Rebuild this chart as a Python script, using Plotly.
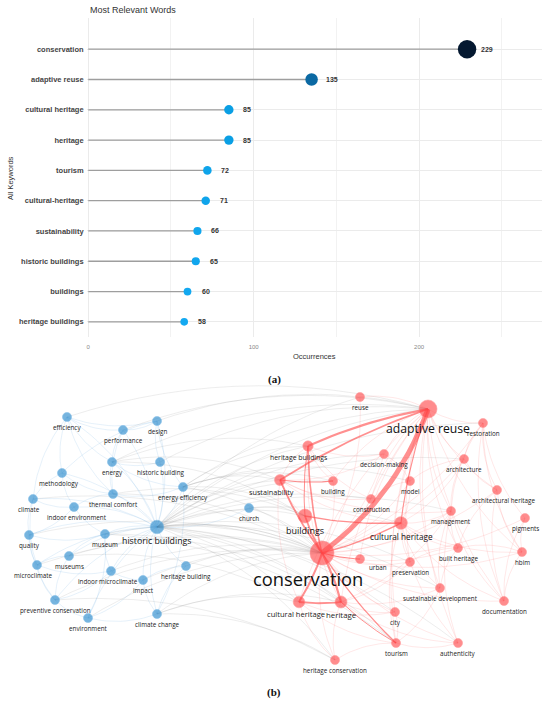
import numpy as np
import plotly.graph_objects as go

# ---- (a) most relevant words ----
words = ["conservation", "adaptive reuse", "cultural heritage", "heritage", "tourism",
         "cultural-heritage", "sustainability", "historic buildings", "buildings",
         "heritage buildings"]
occurrences = [229, 135, 85, 85, 72, 71, 66, 65, 60, 58]
x_ticks = [0, 100, 200]

# ---- (b) keyword co-occurrence map (VOSviewer layout) ----
node_ids = ["conservation", "adaptive reuse", "reuse", "restoration", "heritage buildings",
            "decision-making", "architecture", "sustainability", "building", "model",
            "architectural heritage", "construction", "buildings", "management", "pigments",
            "cultural heritage", "built heritage", "hbim", "urban", "preservation",
            "sustainable development", "cultural heritage 2", "heritage", "documentation",
            "city", "tourism", "authenticity", "heritage conservation",
            "efficiency", "performance", "design", "energy", "historic building",
            "methodology", "energy efficiency", "thermal comfort", "climate",
            "indoor environment", "church", "historic buildings", "quality", "museum",
            "museums", "microclimate", "heritage building", "indoor microclimate", "impact",
            "preventive conservation", "environment", "climate change"]
map_x = [322, 428, 360, 483, 308, 384, 464, 280, 333, 410, 497, 371, 305, 451, 525, 401,
         458, 522, 360, 410, 440, 299, 341, 504, 395, 396, 458, 335,
         67, 123, 157, 112, 160, 62, 183, 113, 33, 74, 249, 157, 29, 105, 69, 37, 186, 111,
         143, 55, 88, 157]
map_y = [553, 409, 397, 423, 446, 454, 459, 480, 481, 481, 490, 499, 516, 511, 518, 523,
         548, 552, 559, 562, 588, 602, 602, 601, 612, 643, 643, 660,
         417, 430, 421, 462, 462, 473, 487, 494, 499, 507, 508, 527, 535, 534, 556, 565,
         566, 571, 580, 600, 618, 614]
cluster = [1] * 28 + [2] * 22
node_weight = [119, 67, 17, 17, 22, 17, 17, 25, 17, 17, 17, 17, 40, 17, 17, 33,
               17, 17, 17, 17, 17, 28, 30, 17, 17, 17, 17, 17,
               17, 17, 17, 17, 17, 17, 17, 17, 17, 17, 17, 38, 17, 17, 17, 17, 17, 17,
               17, 17, 17, 17]

strong_links = [("conservation", "adaptive reuse", 5), ("adaptive reuse", "heritage buildings", 2.2),
                ("adaptive reuse", "sustainability", 1.8), ("heritage buildings", "conservation", 1.6),
                ("sustainability", "conservation", 1.8), ("buildings", "conservation", 1.8),
                ("conservation", "cultural heritage", 1.5), ("cultural heritage 2", "conservation", 2),
                ("heritage", "conservation", 2.2), ("conservation", "tourism", 1.3),
                ("cultural heritage 2", "heritage", 1.8), ("buildings", "cultural heritage", 1.3),
                ("sustainability", "building", 1.2), ("adaptive reuse", "cultural heritage", 1.1),
                ("conservation", "urban", 1), ("heritage", "tourism", 1),
                ("heritage buildings", "buildings", 1)]
red_links = [("adaptive reuse", t) for t in
             ["reuse", "restoration", "decision-making", "architecture", "model", "building",
              "construction", "management", "architectural heritage", "built heritage",
              "sustainable development", "preservation", "city", "tourism", "authenticity",
              "heritage", "cultural heritage 2", "hbim", "documentation", "urban"]] + \
            [("conservation", t) for t in
             ["restoration", "architecture", "management", "architectural heritage",
              "built heritage", "hbim", "documentation", "pigments", "sustainable development",
              "city", "authenticity", "heritage conservation", "model", "decision-making",
              "construction", "building", "reuse", "preservation"]] + \
            [("cultural heritage", t) for t in
             ["management", "architecture", "model", "preservation", "sustainable development",
              "tourism", "built heritage", "authenticity", "documentation", "hbim"]] + \
            [("heritage", "heritage conservation"), ("heritage", "preservation"),
             ("heritage", "management"), ("heritage", "sustainable development"),
             ("heritage", "city"), ("heritage", "authenticity"),
             ("cultural heritage 2", "heritage conservation"), ("cultural heritage 2", "tourism"),
             ("cultural heritage 2", "city"), ("sustainability", "cultural heritage 2"),
             ("heritage buildings", "sustainability"), ("heritage buildings", "building"),
             ("heritage buildings", "decision-making"), ("heritage buildings", "construction"),
             ("heritage buildings", "heritage"), ("sustainability", "buildings"),
             ("sustainability", "decision-making"), ("sustainability", "construction"),
             ("sustainability", "cultural heritage"), ("sustainability", "management"),
             ("restoration", "architecture"), ("restoration", "architectural heritage"),
             ("restoration", "pigments"), ("restoration", "hbim"), ("restoration", "documentation"),
             ("restoration", "management"), ("architecture", "model"),
             ("architecture", "architectural heritage"), ("architecture", "management"),
             ("management", "built heritage"), ("management", "sustainable development"),
             ("management", "authenticity"), ("management", "documentation"),
             ("architectural heritage", "hbim"), ("architectural heritage", "documentation"),
             ("architectural heritage", "built heritage"), ("pigments", "documentation"),
             ("pigments", "hbim"), ("hbim", "documentation"), ("hbim", "built heritage"),
             ("tourism", "city"), ("tourism", "sustainable development"),
             ("tourism", "authenticity"), ("tourism", "heritage conservation"),
             ("built heritage", "sustainable development"), ("built heritage", "preservation"),
             ("model", "decision-making"), ("model", "construction")]
cross_links = [("conservation", t) for t in
               ["historic buildings", "church", "heritage building", "climate change",
                "preventive conservation", "energy efficiency", "environment", "museum", "museums",
                "impact", "indoor microclimate", "microclimate", "thermal comfort", "quality",
                "climate", "historic buildings"]] + \
              [("adaptive reuse", t) for t in
               ["historic buildings", "energy efficiency", "design", "performance", "efficiency",
                "historic building", "energy"]] + \
              [(s, "historic buildings") for s in
               ["reuse", "heritage buildings", "sustainability", "buildings", "cultural heritage",
                "cultural heritage 2", "heritage", "tourism", "heritage conservation", "management",
                "restoration", "architecture", "construction", "sustainable development",
                "decision-making", "building", "preservation", "authenticity", "city"]] + \
              [("heritage buildings", "energy efficiency"), ("heritage buildings", "energy"),
               ("sustainability", "energy efficiency"), ("sustainability", "energy"),
               ("buildings", "energy efficiency"), ("buildings", "church"),
               ("buildings", "thermal comfort"), ("buildings", "energy"),
               ("heritage conservation", "preventive conservation"), ("tourism", "museum"),
               ("cultural heritage 2", "museums"), ("heritage", "museum"),
               ("heritage conservation", "climate change"), ("model", "energy efficiency"),
               ("building", "energy efficiency"), ("cultural heritage 2", "climate change"),
               ("heritage", "climate change")]
blue_links = [("historic buildings", t) for t in
              ["energy", "energy efficiency", "thermal comfort", "museum", "indoor environment",
               "climate", "quality", "methodology", "efficiency", "performance", "design",
               "historic building", "heritage building", "impact", "climate change",
               "preventive conservation", "environment", "museums", "microclimate",
               "indoor microclimate", "church"]] + \
             [("efficiency", "performance"), ("efficiency", "design"), ("efficiency", "energy"),
              ("efficiency", "methodology"), ("efficiency", "climate"), ("performance", "design"),
              ("performance", "energy"), ("design", "energy efficiency"),
              ("design", "historic building"), ("energy", "thermal comfort"),
              ("energy", "historic building"), ("energy", "energy efficiency"),
              ("methodology", "climate"), ("methodology", "thermal comfort"),
              ("climate", "quality"), ("climate", "indoor environment"), ("quality", "museum"),
              ("quality", "microclimate"), ("museum", "museums"), ("museum", "indoor microclimate"),
              ("museums", "microclimate"), ("museums", "preventive conservation"),
              ("microclimate", "preventive conservation"), ("preventive conservation", "environment"),
              ("preventive conservation", "indoor microclimate"), ("indoor microclimate", "impact"),
              ("impact", "climate change"), ("environment", "climate change"),
              ("heritage building", "climate change"), ("heritage building", "impact"),
              ("thermal comfort", "indoor environment"), ("indoor environment", "museum"),
              ("thermal comfort", "energy efficiency"), ("microclimate", "indoor microclimate"),
              ("environment", "museum"), ("climate change", "energy efficiency"),
              ("quality", "indoor environment"), ("efficiency", "thermal comfort"),
              ("design", "methodology"), ("performance", "thermal comfort"),
              ("quality", "preventive conservation"), ("climate", "microclimate"),
              ("methodology", "indoor environment"), ("environment", "impact")]

pos = {n: (x, y) for n, x, y in zip(node_ids, map_x, map_y)}


def curve(a, b, bend=0.15, n=16):
    (x0, y0), (x1, y1) = pos[a], pos[b]
    cx = (x0 + x1) / 2 - (y1 - y0) * bend
    cy = (y0 + y1) / 2 + (x1 - x0) * bend
    t = np.linspace(0, 1, n)
    xs = (1 - t) ** 2 * x0 + 2 * (1 - t) * t * cx + t ** 2 * x1
    ys = (1 - t) ** 2 * y0 + 2 * (1 - t) * t * cy + t ** 2 * y1
    return list(xs) + [None], list(ys) + [None]


def link_trace(links, color, width):
    xs, ys = [], []
    for a, b in links:
        cx, cy = curve(a, b)
        xs += cx
        ys += cy
    return go.Scatter(x=xs, y=ys, mode="lines", line=dict(color=color, width=width),
                      hoverinfo="skip", xaxis="x2", yaxis="y2", showlegend=False)


fig = go.Figure()

# lollipop sticks
seg_x, seg_y = [], []
for w, v in zip(words, occurrences):
    seg_x += [0, v, None]
    seg_y += [w, w, None]
fig.add_trace(go.Scatter(x=seg_x, y=seg_y, mode="lines", line=dict(color="#9e9e9e", width=1.3),
                         showlegend=False, hoverinfo="skip"))
fig.add_trace(go.Scatter(
    x=occurrences, y=words, mode="markers", showlegend=False, opacity=1,
    marker=dict(size=[4 + 0.063 * v for v in occurrences], color=occurrences, opacity=1,
                cmin=min(occurrences), cmax=max(occurrences),
                colorscale=[[0, "#13a9f1"], [0.16, "#0a9fe4"], [0.45, "#0b69a3"], [1, "#041830"]],
                line=dict(width=0))))

for w, v in zip(words, occurrences):
    fig.add_annotation(x=v, y=w, xref="x", yref="y", text=str(v), showarrow=False,
                       xanchor="left", xshift=12,
                       font=dict(family="Liberation Sans", size=7, color="#333", weight="bold"))

# network
fig.add_trace(link_trace(blue_links, "rgba(110,175,225,0.25)", 0.7))
fig.add_trace(link_trace(cross_links, "rgba(120,120,120,0.17)", 0.8))
fig.add_trace(link_trace(red_links, "rgba(255,90,90,0.18)", 0.8))
for a, b, wdt in strong_links:
    cx, cy = curve(a, b, bend=0.15 if wdt > 4 else 0.06)
    fig.add_trace(go.Scatter(x=cx, y=cy, mode="lines", xaxis="x2", yaxis="y2",
                             line=dict(color="rgba(255,70,70,0.6)", width=wdt),
                             hoverinfo="skip", showlegend=False))

sizes = [2.2 * np.sqrt(w) for w in node_weight]
for c, fill, edge in [(2, "rgba(45,140,205,0.92)", "rgba(90,170,225,1)"),
                      (1, "rgba(255,70,72,0.88)", "rgba(255,120,120,1)")]:
    idx = [i for i, k in enumerate(cluster) if k == c]
    fig.add_trace(go.Scatter(x=[map_x[i] for i in idx], y=[map_y[i] for i in idx],
                             mode="markers", xaxis="x2", yaxis="y2", showlegend=False,
                             marker=dict(size=[sizes[i] for i in idx], color=fill,
                                         line=dict(color=edge, width=0.6))))

label_dx = {"heritage buildings": -10, "sustainability": -9, "architectural heritage": 6,
            "conservation": -14, "methodology": -3, "climate": -4, "microclimate": -4,
            "indoor environment": 3, "indoor microclimate": -3, "cultural heritage 2": -3}
for n, x, y, w in zip(node_ids, map_x, map_y, node_weight):
    fs = 4.3 + 0.118 * w
    r = 1.1 * np.sqrt(w)
    col = "#111" if w > 30 else "#222"
    label = n.replace(" 2", "")
    if n == "urban":
        fig.add_annotation(x=x, y=y, xref="x2", yref="y2", text=label, showarrow=False,
                           xanchor="left", yanchor="middle", xshift=r + 2, yshift=-8,
                           font=dict(family="Open Sans", size=fs, color=col))
        continue
    fig.add_annotation(x=x, y=y, xref="x2", yref="y2", text=label, showarrow=False,
                       xanchor="center", yanchor="top", yshift=-(r + 0.5),
                       xshift=label_dx.get(n, 0), borderpad=0,
                       font=dict(family="Open Sans", size=fs, color=col))

W, H = 550.0, 703.0
fig.add_annotation(x=88 / W, y=1 - 10 / H, xref="paper", yref="paper", text="Most Relevant Words",
                   showarrow=False, xanchor="left", yanchor="middle",
                   font=dict(family="Liberation Sans", size=9, color="#333"))
fig.add_annotation(x=10 / W, y=1 - 178 / H, xref="paper", yref="paper", text="All Keywords",
                   showarrow=False, textangle=-90, xanchor="center", yanchor="middle",
                   font=dict(family="Liberation Sans", size=7.5, color="#333"))
fig.add_annotation(x=314 / W, y=1 - 357 / H, xref="paper", yref="paper", text="Occurrences",
                   showarrow=False, xanchor="center", yanchor="middle",
                   font=dict(family="Liberation Sans", size=7.5, color="#333"))
for lab, yy in [("(a)", 379), ("(b)", 692)]:
    fig.add_annotation(x=274 / W, y=1 - yy / H, xref="paper", yref="paper", text=lab,
                       showarrow=False, xanchor="center", yanchor="middle",
                       font=dict(family="Liberation Serif", size=11, color="#111", weight="bold"))

fig.update_layout(
    width=550, height=703, margin=dict(l=0, r=0, t=0, b=0),
    paper_bgcolor="white", plot_bgcolor="white", hovermode=False,
    xaxis=dict(domain=[86.6 / W, 541.7 / W], range=[-1, 274.1], tickvals=x_ticks,
               showgrid=True, gridcolor="#ebebeb", gridwidth=0.8, zeroline=False,
               minor=dict(dtick=50, tick0=0, showgrid=True, gridcolor="#f2f2f2", gridwidth=0.5),
               ticks="", ticklabelstandoff=5,
               tickfont=dict(family="Liberation Sans", size=6, color="#888")),
    yaxis=dict(domain=[1 - 337 / H, 1 - 18 / H], type="category", categoryorder="array",
               categoryarray=words, range=[9.5, -1.03], showgrid=True, gridcolor="#ebebeb",
               gridwidth=0.8, zeroline=False, ticks="", ticklabelstandoff=2,
               tickfont=dict(family="Liberation Sans", size=7.5, color="#444", weight="bold")),
    xaxis2=dict(domain=[0, 1], range=[0, 550], visible=False),
    yaxis2=dict(domain=[0, 1 - 385 / H], range=[703, 385], visible=False),
)

fig.write_html("out.html", config={"displayModeBar": False},
               post_script="document.body.style.margin='0';")
